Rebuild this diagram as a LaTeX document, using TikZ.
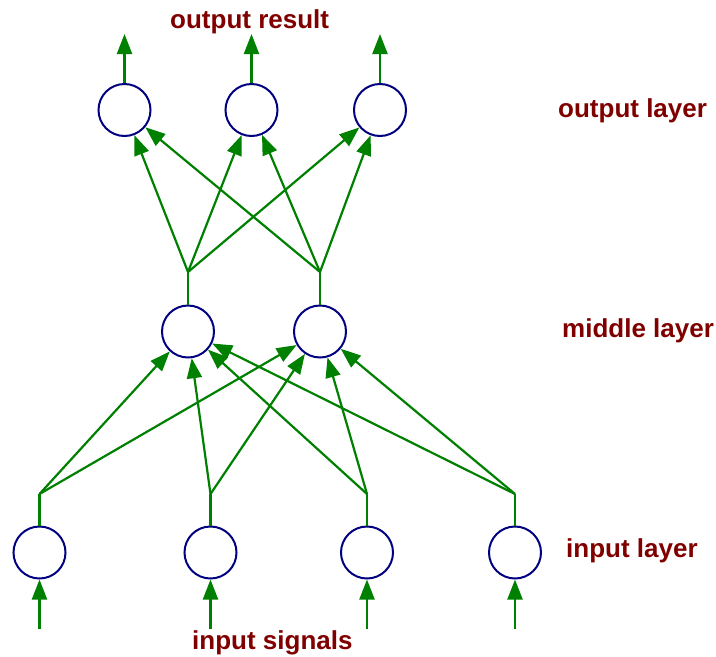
\documentclass[tikz,border=0pt]{standalone}
\usepackage{fontspec}
\setmainfont{Liberation Sans}
\usetikzlibrary{arrows.meta}
\definecolor{lgreen}{HTML}{008000}
\definecolor{lnavy}{HTML}{000080}
\definecolor{lred}{HTML}{800000}
\tikzset{
  neuron/.style={circle,draw=lnavy,line width=2pt,minimum size=52pt,inner sep=0pt},
  link/.style={draw=lgreen,line width=2.2pt},
  arr/.style={link,-{Triangle[length=20pt,width=15pt]},fill=lgreen},
  lbl/.style={text=lred,font=\fontsize{26}{30}\selectfont\bfseries,anchor=base west,inner sep=0pt}
}
\begin{document}
\begin{tikzpicture}[x=1pt,y=-1pt]
\useasboundingbox (0,0) rectangle (716,657);
% nodes
\node[neuron] (o1) at (124.5,110) {};
\node[neuron] (o2) at (251.5,110) {};
\node[neuron] (o3) at (380,110) {};
\node[neuron] (m1) at (188,331.5) {};
\node[neuron] (m2) at (320,331.5) {};
\node[neuron] (i1) at (39.5,552.5) {};
\node[neuron] (i2) at (210.5,552.5) {};
\node[neuron] (i3) at (367,552.5) {};
\node[neuron] (i4) at (515,552.5) {};
% coordinates
\coordinate (to1) at (124.5,34);
\coordinate (to2) at (251.5,34);
\coordinate (to3) at (380,34);
\coordinate (bm1) at (188,272);
\coordinate (bm2) at (320,272);
\coordinate (bi1) at (39.5,494);
\coordinate (bi2) at (210.5,494);
\coordinate (bi3) at (367,494);
\coordinate (bi4) at (515,494);
\coordinate (ti1) at (39.5,629);
\coordinate (ti2) at (210.5,629);
\coordinate (ti3) at (367,629);
\coordinate (ti4) at (515,629);
% output arrows
\foreach \k in {1,2,3} \draw[arr] (o\k) -- (to\k);
% middle to outputs
\foreach \m in {1,2} {
  \draw[link] (m\m) -- (bm\m);
  \foreach \k in {1,2,3} \draw[arr] (bm\m) -- (o\k);
}
% inputs to middle
\foreach \i in {1,2,3,4} {
  \draw[link] (i\i) -- (bi\i);
  \foreach \m in {1,2} \draw[arr] (bi\i) -- (m\m);
  \draw[arr] (ti\i) -- (i\i);
}
% labels
\node[lbl] (lres) at (170,28) {output result};
\node[lbl] (lout) at (558,117) {output layer};
\node[lbl] (lmid) at (562,337) {middle layer};
\node[lbl] (lin) at (566,557) {input layer};
\node[lbl] (lsig) at (192,649) {input signals};
\end{tikzpicture}
\end{document}
